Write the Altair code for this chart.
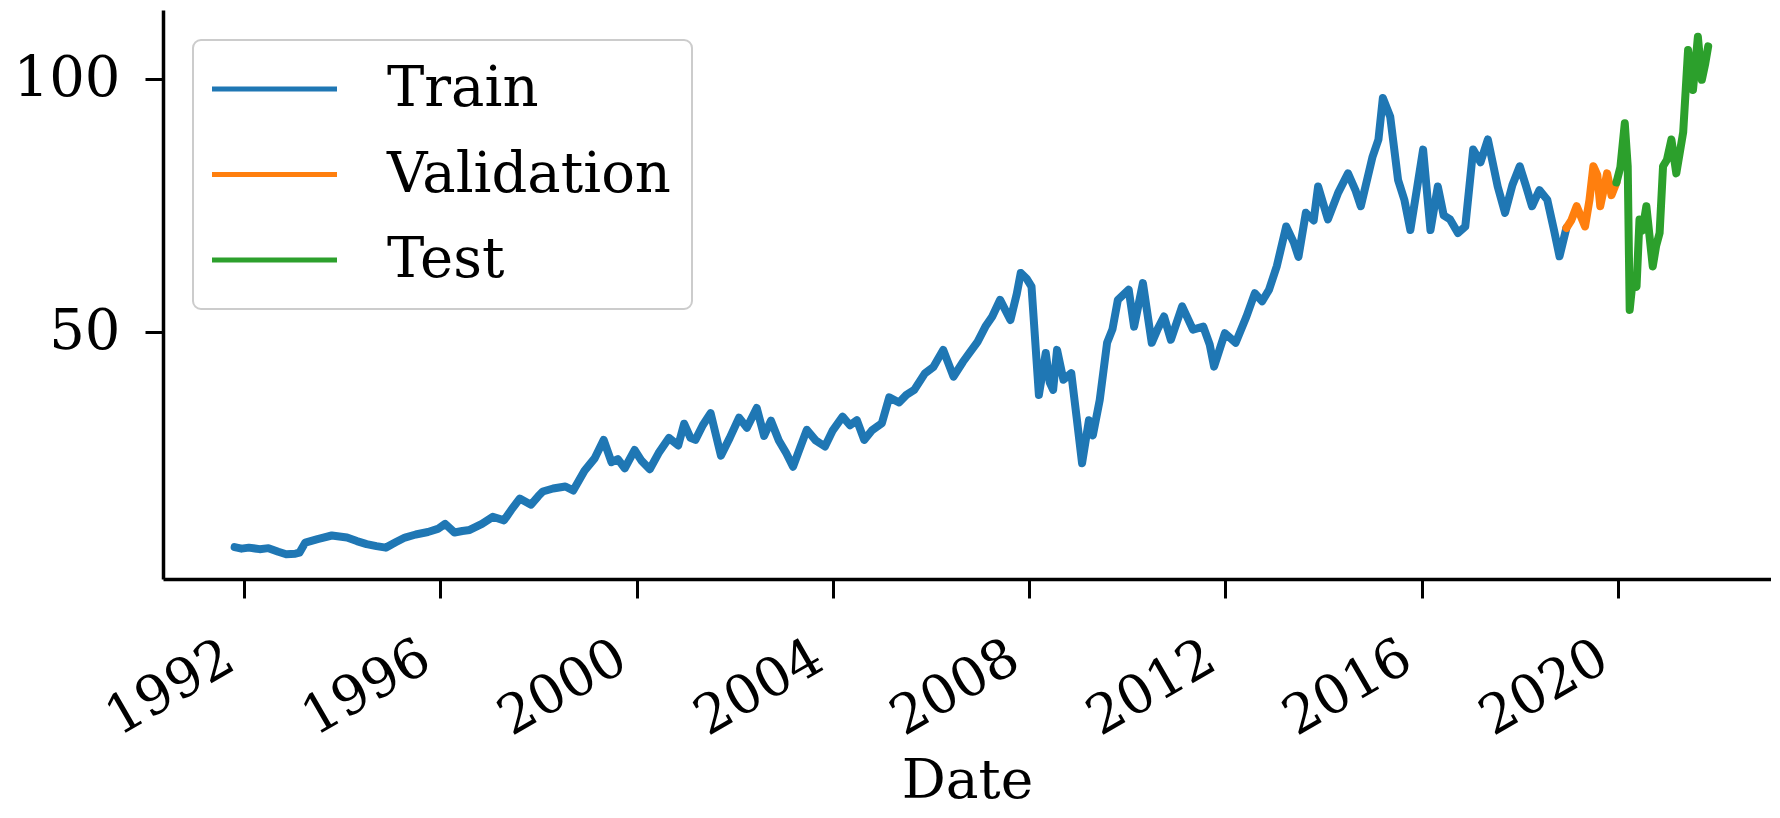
import altair as alt
import pandas as pd

# ---- data ----
train_years = [1991.81, 1991.95, 1992.10, 1992.32, 1992.50, 1992.70, 1992.86, 1993.05, 1993.13, 1993.25,
               1993.50, 1993.79, 1994.10, 1994.30, 1994.50, 1994.70, 1994.89, 1995.10, 1995.28, 1995.50,
               1995.75, 1995.95, 1996.10, 1996.29, 1996.45, 1996.60, 1996.85, 1997.07, 1997.30, 1997.45,
               1997.62, 1997.85, 1998.00, 1998.09, 1998.30, 1998.55, 1998.71, 1998.94, 1999.15, 1999.33,
               1999.49, 1999.62, 1999.76, 1999.96, 2000.10, 2000.27, 2000.45, 2000.66, 2000.85, 2000.97,
               2001.10, 2001.20, 2001.35, 2001.51, 2001.62, 2001.72, 2001.90, 2002.09, 2002.25, 2002.45,
               2002.60, 2002.74, 2002.90, 2003.05, 2003.19, 2003.33, 2003.47, 2003.65, 2003.84, 2004.00,
               2004.20, 2004.35, 2004.49, 2004.64, 2004.80, 2005.00, 2005.15, 2005.35, 2005.50, 2005.66,
               2005.88, 2006.05, 2006.25, 2006.46, 2006.65, 2006.83, 2006.95, 2007.11, 2007.25, 2007.41,
               2007.62, 2007.75, 2007.83, 2007.95, 2008.05, 2008.20, 2008.34, 2008.42, 2008.49, 2008.57,
               2008.70, 2008.86, 2008.97, 2009.08, 2009.22, 2009.30, 2009.44, 2009.59, 2009.70, 2009.81,
               2010.03, 2010.14, 2010.32, 2010.50, 2010.62, 2010.75, 2010.89, 2011.12, 2011.34, 2011.55,
               2011.68, 2011.77, 2011.99, 2012.21, 2012.43, 2012.60, 2012.75, 2012.89, 2013.05, 2013.24,
               2013.40, 2013.49, 2013.64, 2013.80, 2013.89, 2014.09, 2014.30, 2014.50, 2014.65, 2014.76,
               2014.90, 2015.00, 2015.12, 2015.21, 2015.36, 2015.52, 2015.65, 2015.77, 2015.90, 2016.03,
               2016.18, 2016.33, 2016.45, 2016.58, 2016.74, 2016.89, 2017.05, 2017.20, 2017.35, 2017.55,
               2017.70, 2017.85, 2018.00, 2018.12, 2018.25, 2018.40, 2018.56, 2018.70, 2018.81, 2018.95]
train_values = [7.4, 7.1, 7.3, 7.0, 7.2, 6.5, 6.0, 6.1, 6.3, 8.3,
                9.0, 9.7, 9.3, 8.6, 8.0, 7.6, 7.3, 8.4, 9.3, 9.9,
                10.4, 11.0, 12.0, 10.3, 10.6, 10.8, 12.0, 13.4, 12.7, 14.8,
                17.0, 15.8, 17.5, 18.4, 19.0, 19.4, 18.6, 22.5, 25.0, 28.6,
                24.2, 24.8, 23.0, 26.6, 24.5, 22.8, 26.0, 29.0, 27.5, 31.8,
                29.0, 28.6, 31.5, 33.9, 29.5, 25.5, 29.0, 33.0, 31.0, 34.9,
                29.4, 32.4, 28.5, 26.0, 23.3, 27.0, 30.6, 28.5, 27.3, 30.5,
                33.2, 31.5, 32.5, 28.6, 30.5, 31.9, 37.0, 36.0, 37.5, 38.5,
                41.8, 43.0, 46.4, 41.1, 44.0, 46.4, 48.0, 51.0, 53.0, 56.3,
                52.3, 57.5, 61.6, 60.5, 58.9, 37.5, 45.8, 40.0, 38.5, 46.4,
                40.5, 41.8, 33.0, 24.0, 32.5, 29.5, 36.5, 47.8, 50.5, 56.3,
                58.3, 51.0, 59.6, 47.8, 50.5, 53.0, 48.4, 55.0, 50.4, 51.0,
                47.5, 43.1, 49.7, 47.8, 53.0, 57.6, 56.0, 58.3, 63.0, 70.8,
                67.5, 64.8, 73.5, 72.0, 78.7, 72.2, 77.5, 81.3, 78.0, 74.8,
                80.5, 84.6, 88.0, 96.2, 92.5, 80.0, 76.0, 70.1, 78.0, 86.0,
                70.1, 78.7, 73.0, 72.2, 69.5, 70.8, 86.0, 83.5, 88.0, 78.7,
                73.5, 79.0, 82.7, 79.0, 74.8, 78.0, 76.1, 70.0, 64.9, 70.5]

val_years = [2018.95, 2019.05, 2019.16, 2019.33, 2019.42, 2019.50, 2019.58, 2019.64, 2019.78, 2019.87, 2019.97]
val_values = [70.5, 72.0, 74.8, 70.8, 76.0, 82.7, 81.0, 74.8, 81.3, 77.0, 79.5]

test_years = [2019.97, 2020.05, 2020.14, 2020.20, 2020.24, 2020.30, 2020.38, 2020.44, 2020.50, 2020.58,
              2020.71, 2020.78, 2020.85, 2020.92, 2021.00, 2021.09, 2021.19, 2021.33, 2021.43, 2021.53,
              2021.63, 2021.71, 2021.78, 2021.84]
test_values = [79.5, 82.5, 91.2, 82.7, 54.3, 60.0, 58.9, 72.2, 70.0, 74.8,
               62.9, 67.0, 69.5, 82.7, 84.0, 88.0, 81.3, 89.4, 105.7, 97.8,
               108.3, 99.8, 103.0, 106.4]

split_names = ["Train", "Validation", "Test"]
split_colors = ["#1f77b4", "#ff7f0e", "#2ca02c"]
x_ticks = [1992, 1996, 2000, 2004, 2008, 2012, 2016, 2020]
y_ticks = [50, 100]

rows = []
for name, xs, ys in zip(split_names, [train_years, val_years, test_years],
                        [train_values, val_values, test_values]):
    for x, y in zip(xs, ys):
        rows.append({"Date": x, "Value": y, "Split": name})
df = pd.DataFrame(rows)

FONT = "DejaVu Serif"

chart = alt.Chart(df).mark_line(strokeWidth=8, strokeJoin="round", strokeCap="round").encode(
    x=alt.X("Date:Q",
            scale=alt.Scale(domain=[1990.35, 2023.12], nice=False, zero=False),
            axis=alt.Axis(values=x_ticks, format="d", title="Date",
                          labelAngle=-30, labelAlign="right", labelBaseline="top",
                          labelFontSize=54,
                          labelOffset=-28, labelPadding=32, labelFlush=False,
                          labelOverlap=False, labelBound=False,
                          tickSize=19, titleFontSize=55, titleFont=FONT,
                          titleFontWeight="normal", titleBaseline="alphabetic",
                          titleY=218, titleColor="black")),
    y=alt.Y("Value:Q",
            scale=alt.Scale(domain=[1.1, 113.6], nice=False, zero=False),
            axis=alt.Axis(values=y_ticks, title=None, tickSize=18, labelPadding=25,
                          labelFontSize=56)),
    color=alt.Color("Split:N",
                    scale=alt.Scale(domain=split_names, range=split_colors),
                    legend=alt.Legend(title=None, orient="none", legendX=30, legendY=30,
                                      labelFontSize=56, labelFont=FONT, labelColor="black",
                                      labelLimit=500, symbolType="M-3,0H3", symbolSize=1736,
                                      symbolStrokeWidth=5, symbolOffset=32.5, labelOffset=84.5,
                                      rowPadding=29.5)),
    detail="Split:N",
).properties(
    width=1608,
    height=569,
    autosize=alt.AutoSizeParams(type="none"),
    padding={"left": 155, "top": 2, "right": 0, "bottom": 231},
).configure(
    font=FONT,
    background="white",
).configure_view(
    strokeWidth=0,
).configure_legend(
    fillColor="white",
    strokeColor="#cccccc",
    strokeWidth=2,
    cornerRadius=8,
    padding=21,
).configure_axis(
    grid=False,
    domainColor="black",
    domainWidth=3.5,
    tickColor="black",
    tickWidth=3,
    labelColor="black",
    labelFont=FONT,
)

chart.save("out.html", embed_options={"renderer": "svg", "actions": False})
